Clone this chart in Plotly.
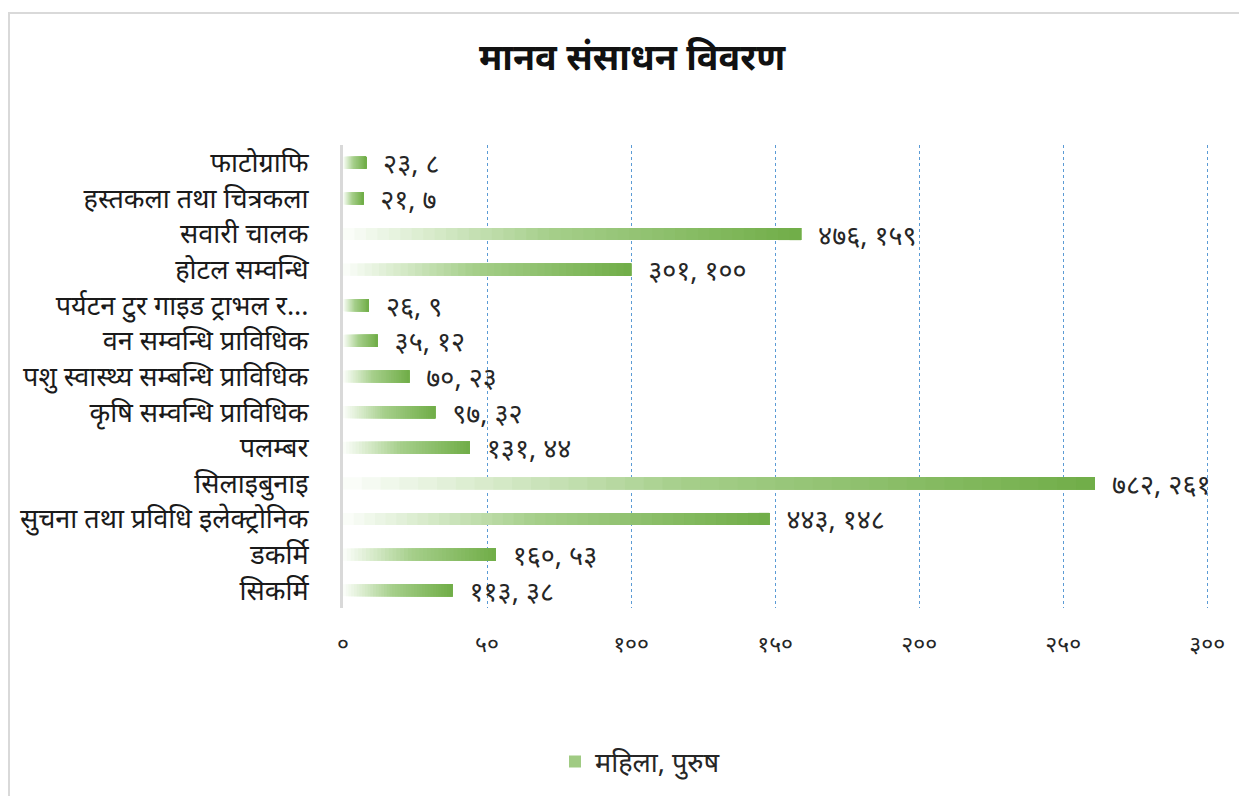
import plotly.graph_objects as go

# ---- data (top-to-bottom order as shown) ----
categories = [
    "फाटोग्राफि",
    "हस्तकला तथा चित्रकला",
    "सवारी चालक",
    "होटल सम्वन्धि",
    "पर्यटन टुर गाइड ट्राभल र...",
    "वन सम्वन्धि प्राविधिक",
    "पशु स्वास्थ्य सम्बन्धि प्राविधिक",
    "कृषि सम्वन्धि प्राविधिक",
    "पलम्बर",
    "सिलाइबुनाइ",
    "सुचना तथा प्रविधि इलेक्ट्रोनिक",
    "डकर्मि",
    "सिकर्मि",
]
mahila = [23, 21, 476, 301, 26, 35, 70, 97, 131, 782, 443, 160, 113]
purush = [8, 7, 159, 100, 9, 12, 23, 32, 44, 261, 148, 53, 38]
tick_vals = [0, 50, 100, 150, 200, 250, 300]
series_name = "महिला, पुरुष"
title_text = "मानव संसाधन विवरण"

DEV = str.maketrans("0123456789", "०१२३४५६७८९")


def dev(n):
    return str(n).translate(DEV)


labels = ["\u00a0\u00a0" + dev(a) + ", " + dev(b) for a, b in zip(mahila, purush)]
tick_text = [dev(v) for v in tick_vals]

# gradient stops (white -> Excel green)
stops = [(0.0, (252, 254, 251)), (0.18, (218, 236, 206)), (0.45, (166, 207, 139)), (1.0, (112, 173, 71))]


def grad(t):
    for (t0, c0), (t1, c1) in zip(stops[:-1], stops[1:]):
        if t <= t1:
            f = (t - t0) / (t1 - t0) if t1 > t0 else 0
            c = [round(a + (b - a) * f) for a, b in zip(c0, c1)]
            return "rgb(%d,%d,%d)" % tuple(c)
    return "rgb(%d,%d,%d)" % stops[-1][1]


FONT = "Noto Sans, Noto Sans Devanagari, sans-serif"
N = 40
fig = go.Figure()
for i in range(N):
    frac = i / N
    fig.add_trace(go.Bar(
        y=categories,
        x=[v * (1 - frac) for v in purush],
        base=[v * frac for v in purush],
        orientation="h",
        width=0.34,
        marker=dict(color=grad((i + 0.5) / N), line=dict(width=0)),
        text=labels if i == 0 else None,
        textposition="outside" if i == 0 else "none",
        outsidetextfont=dict(size=27, color="#262626", family=FONT),
        constraintext="none",
        cliponaxis=False,
        showlegend=(i == N // 2),
        name=series_name,
        hoverinfo="skip",
    ))

# plot area in screen coords (page body has 8px offset)
PL, PR, PT, PB = 343, 1209, 145, 608
PW, PH = PR - PL, PB - PT
OFF = 8
W, H = 1247, 796

fig.update_layout(
    width=W,
    height=H,
    barmode="overlay",
    paper_bgcolor="white",
    plot_bgcolor="white",
    font=dict(family=FONT, color="#262626"),
    margin=dict(l=PL - OFF, r=W - (PR - OFF), t=PT - OFF, b=H - (PB - OFF)),
    title=dict(text="<b>" + title_text + "</b>", x=(632 - OFF) / W, xanchor="center",
               y=1 - (57 - OFF) / H, yanchor="middle",
               font=dict(size=36, color="#111", family=FONT)),
    showlegend=True,
    legend=dict(orientation="h", x=(640 - PL) / PW, xanchor="center",
                y=-(762 - PB) / PH, yanchor="middle",
                font=dict(size=27, color="#262626", family=FONT),
                itemwidth=30),
    xaxis=dict(range=[0, 300.6], tickvals=tick_vals, ticktext=tick_text,
               showgrid=True, gridcolor="#5b9bd5", griddash="dot", gridwidth=1,
               zeroline=False, showline=False, ticks="",
               ticklabelstandoff=20,
               tickfont=dict(size=23, color="#262626", family=FONT)),
    yaxis=dict(autorange="reversed", showline=True, linecolor="#d9d9d9",
               linewidth=3, ticks="", ticklabelstandoff=26,
               tickfont=dict(size=27, color="#1a1a1a", family=FONT)),
    shapes=[dict(type="rect", xref="paper", yref="paper",
                 x0=(9 - PL) / PW, x1=(1246 - PL) / PW,
                 y0=-(805 - PB) / PH, y1=(PB - 13) / PH,
                 line=dict(color="#d9d9d9", width=2), fillcolor="rgba(0,0,0,0)",
                 layer="below")],
)

fig.write_html("out.html")
